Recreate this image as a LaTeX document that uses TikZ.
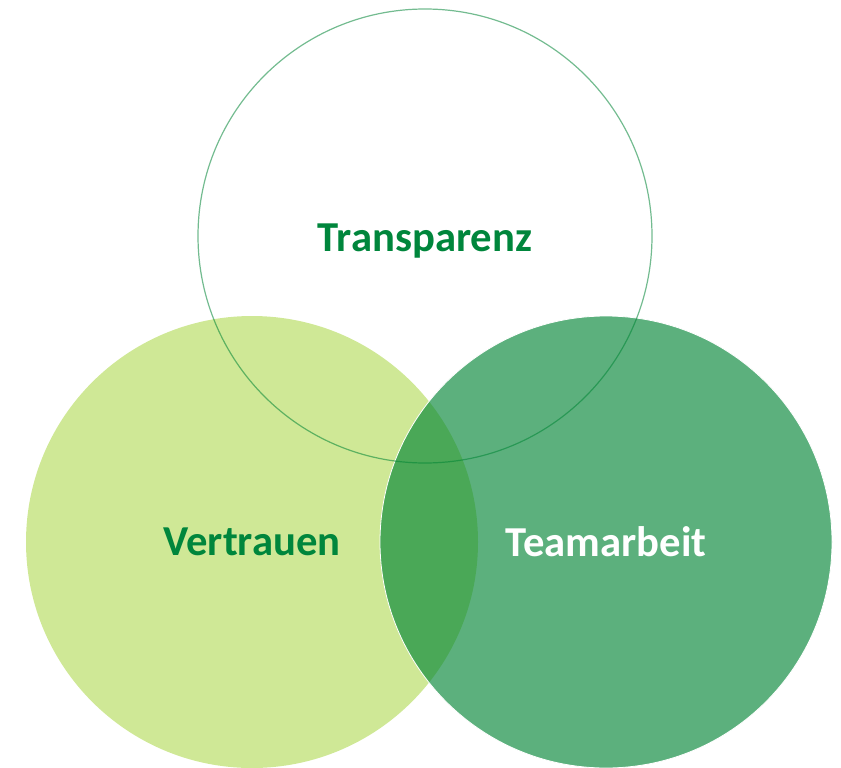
\documentclass[tikz,border=0pt]{standalone}
\usepackage{fontspec}
\setmainfont{Carlito}
\usetikzlibrary{positioning}
\definecolor{trustcolor}{RGB}{207, 232, 150}
\definecolor{teamcolor}{RGB}{0, 132, 52}
\definecolor{labelcolor}{RGB}{0, 134, 60}
\tikzstyle{ringbox} = [
    circle,
    inner sep=0pt,
    outer sep=0pt,
    align=center,
    font=\fontsize{32}{38}\selectfont\bfseries
]
\tikzstyle{outlinering} = [
    ringbox,
    minimum size=340.5pt,
    draw=teamcolor,
    draw opacity=0.55,
    line width=0.9pt,
    text=labelcolor
]
\tikzstyle{filledring} = [
    ringbox,
    minimum size=339pt
]

\begin{document}
\begin{tikzpicture}[x=0.75pt, y=0.75pt]

% Canvas
\useasboundingbox (0, 0) rectangle (841, -767);

% Circle 1: Vertrauen
\node[filledring, fill=trustcolor, text=labelcolor] (trust) at (252, -542) {Vertrauen};

% Circle 2: Teamarbeit
\node[filledring, fill=teamcolor, fill opacity=0.64, text opacity=1, draw=white, line width=0.6pt, text=white] (team) at (606, -542) {Teamarbeit};

% Circle 3: Transparenz
\node[outlinering] (clear) at (425, -236) {\smash{\raisebox{-11.6pt}{Transparenz}}};

\end{tikzpicture}
\end{document}
